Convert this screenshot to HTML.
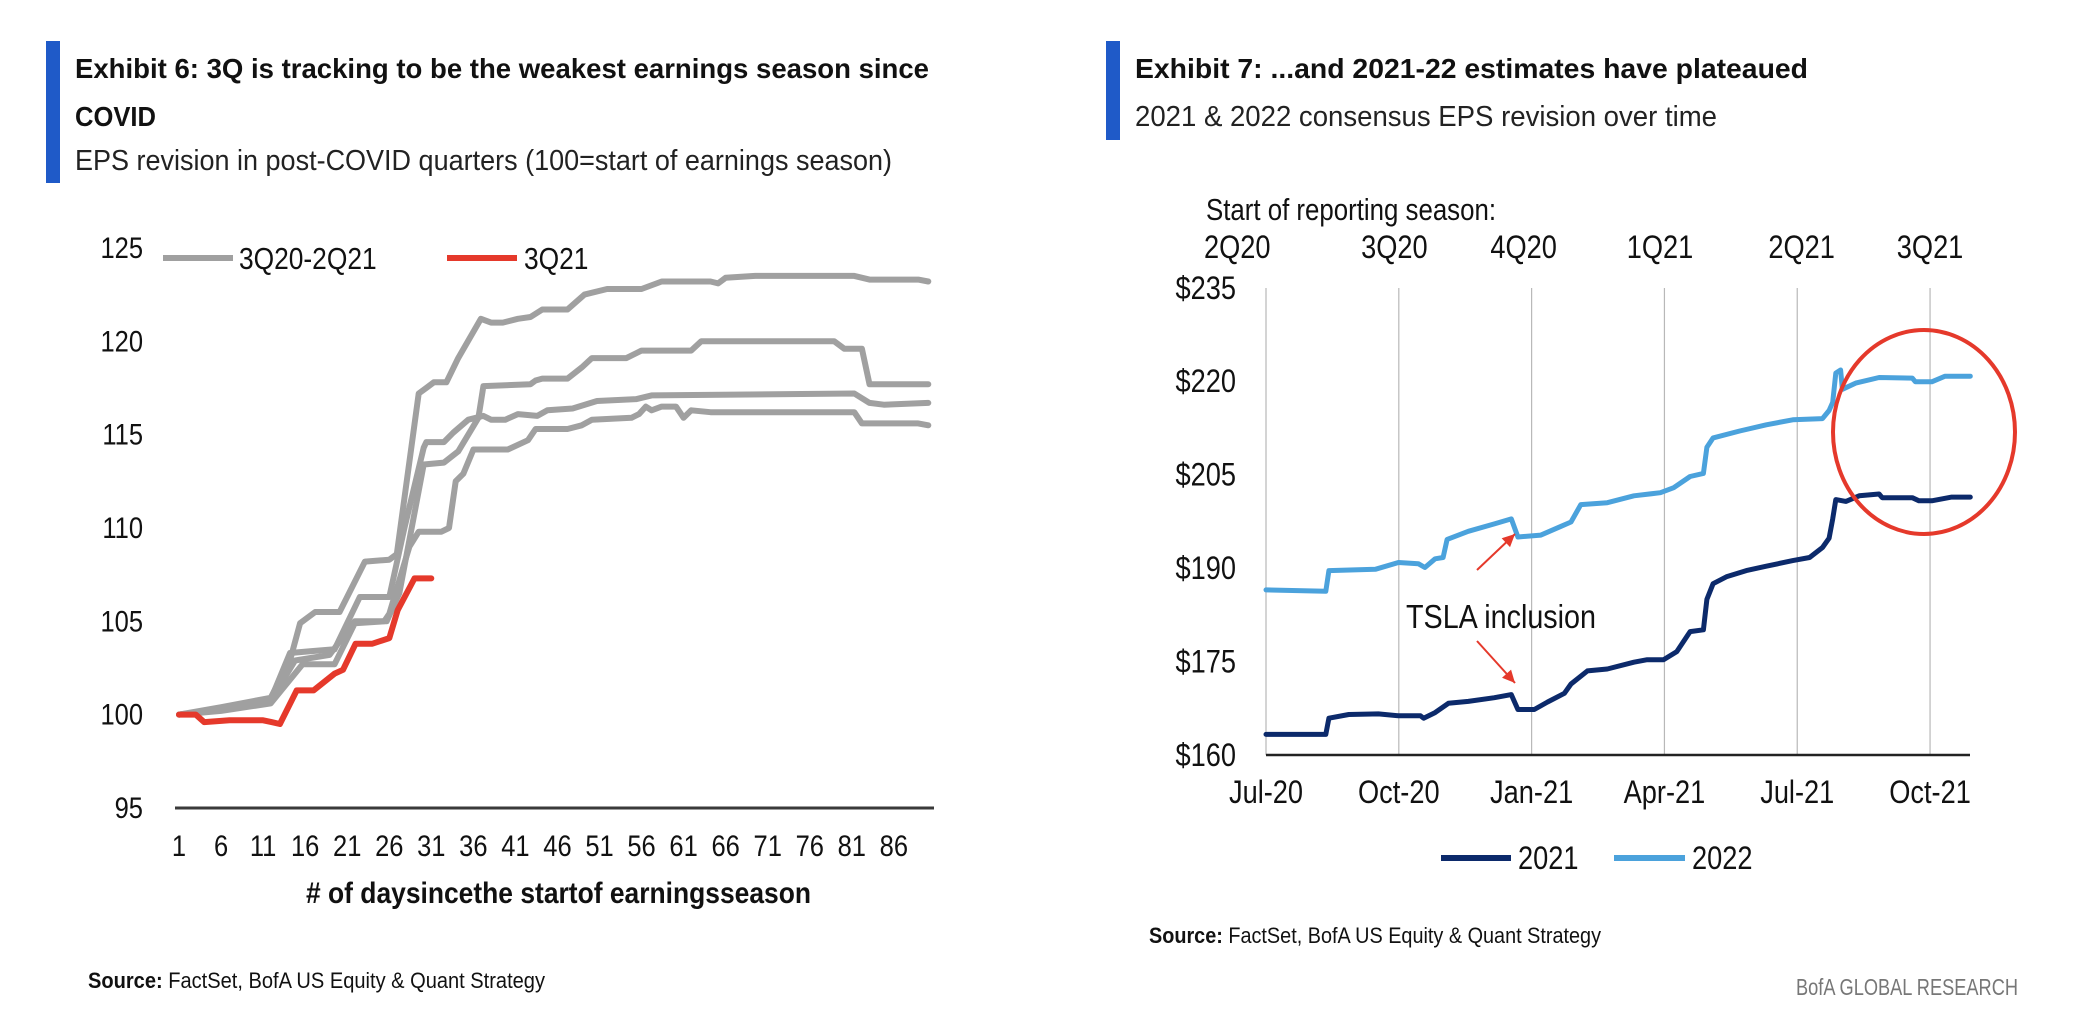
<!DOCTYPE html>
<html><head><meta charset="utf-8">
<style>
html,body{margin:0;padding:0;background:#fff;}
svg{display:block;}
text{font-family:"Liberation Sans Narrow","Liberation Sans",sans-serif;}
</style></head>
<body>
<svg id="root" width="2076" height="1016" viewBox="0 0 2076 1016" xmlns="http://www.w3.org/2000/svg">
  <rect x="46" y="41" width="14" height="142" fill="#1f5ac8"/>
  <text x="75" y="78" font-size="28" font-weight="bold" fill="#111" textLength="854" lengthAdjust="spacingAndGlyphs">Exhibit 6: 3Q is tracking to be the weakest earnings season since</text>
  <text x="75" y="126" font-size="28" font-weight="bold" fill="#111" textLength="81" lengthAdjust="spacingAndGlyphs">COVID</text>
  <text x="75" y="170" font-size="29" fill="#222" textLength="817" lengthAdjust="spacingAndGlyphs">EPS revision in post-COVID quarters (100=start of earnings season)</text>

  <rect x="1106" y="41" width="14" height="99" fill="#1f5ac8"/>
  <text x="1135" y="78" font-size="28" font-weight="bold" fill="#111" textLength="673" lengthAdjust="spacingAndGlyphs">Exhibit 7: ...and 2021-22 estimates have plateaued</text>
  <text x="1135" y="126" font-size="29" fill="#222" textLength="582" lengthAdjust="spacingAndGlyphs">2021 &amp; 2022 consensus EPS revision over time</text>

  <g id="left-chart"></g>
  <g id="right-chart"></g>

  <text x="88" y="988" font-size="22" fill="#111" textLength="457" lengthAdjust="spacingAndGlyphs"><tspan font-weight="bold">Source:</tspan> FactSet, BofA US Equity &amp; Quant Strategy</text>
  <text x="1149" y="943" font-size="22" fill="#111" textLength="452" lengthAdjust="spacingAndGlyphs"><tspan font-weight="bold">Source:</tspan> FactSet, BofA US Equity &amp; Quant Strategy</text>
  <text x="2018" y="995" font-size="23" fill="#777" text-anchor="end" textLength="222" lengthAdjust="spacingAndGlyphs">BofA GLOBAL RESEARCH</text>
</svg>
<script>
// ===== Exhibit 6 data =====
const leftYTicks = [95, 100, 105, 110, 115, 120, 125];
const leftXTicks = [1, 6, 11, 16, 21, 26, 31, 36, 41, 46, 51, 56, 61, 66, 71, 76, 81, 86];
const greyADays = [1,6,11.9,14.2,15.4,17.2,20.1,23.1,26,26.9,29.5,30.4,31.3,32.8,34.2,36.9,38.1,39.5,41.3,42.8,44.2,47.2,49.2,51.9,56,58.4,64.2,65.1,66,69.5,81.3,83.1,88.9,90.1];
const greyAVals = [100,100.4,100.9,102.9,104.9,105.5,105.5,108.2,108.3,108.6,117.2,117.5,117.8,117.8,119.1,121.2,121,121,121.2,121.3,121.7,121.7,122.5,122.8,122.8,123.2,123.2,123.1,123.4,123.5,123.5,123.3,123.3,123.2];
const greyBDays = [1,6,11.9,14.8,18.9,21.9,25.7,27.2,30.1,32.5,34.2,36.6,37.2,42.8,43.4,44.2,47.2,48.9,50.1,54.2,56,61.9,63.1,78.9,80.1,82.2,83.1,90.1];
const greyBVals = [100,100.3,100.75,102.9,103.2,105,105,106.5,113.4,113.5,114.1,115.9,117.6,117.7,117.9,118,118,118.6,119.1,119.1,119.5,119.5,120,120,119.6,119.6,117.7,117.7];
const greyCDays = [1,6,11.9,14.2,16.6,19.5,22.5,26,27.8,30.1,30.4,32.5,33.6,35.4,37.2,38.1,39.8,41.3,43.6,44.8,47.8,50.7,55.4,57.2,81.3,83.1,84.8,90.1];
const greyCVals = [100,100.3,100.8,103.3,103.4,103.5,106.3,106.3,110,114.3,114.6,114.6,115.1,115.8,116,115.8,115.8,116.1,116,116.3,116.4,116.8,116.9,117.1,117.2,116.7,116.6,116.7];
const greyDDays = [1,6,11.9,15.7,19.5,21.9,25.4,26,28.4,29.5,32.2,33.1,33.9,34.8,36,40.1,42.5,43.4,47.2,48.9,50.1,54.8,55.7,56.5,57.2,58.4,60.1,61,61.9,64.2,81.3,82.2,88.9,90.1];
const greyDVals = [100,100.2,100.6,102.7,102.7,104.9,105,105.4,109,109.8,109.8,110,112.5,112.9,114.2,114.2,114.7,115.3,115.3,115.5,115.8,115.9,116.1,116.5,116.3,116.5,116.5,115.9,116.3,116.2,116.2,115.6,115.6,115.5];
const redDays = [1,3,4,7,11,12,13,15,17,19.5,20.5,22,24,26,27,29,31];
const redVals = [100,100,99.6,99.7,99.7,99.6,99.5,101.3,101.3,102.2,102.4,103.8,103.8,104.1,105.6,107.3,107.3];

// ===== Exhibit 7 data (months since Jul-2020) =====
const rightYTicks = [160, 175, 190, 205, 220, 235];
const rightXLabels = ['Jul-20', 'Oct-20', 'Jan-21', 'Apr-21', 'Jul-21', 'Oct-21'];
const rightXLabelMonths = [0, 3, 6, 9, 12, 15];
const seasonLabels = ['2Q20', '3Q20', '4Q20', '1Q21', '2Q21', '3Q21'];
const seasonMonths = [-0.65, 2.9, 5.82, 8.9, 12.1, 15];
const eps2022Months = [0,1.35,1.42,2.47,2.99,3.44,3.59,3.82,4.0,4.09,4.57,5.16,5.54,5.69,6.21,6.66,6.89,7.11,7.71,8.31,8.91,9.21,9.58,9.88,9.96,10.10,10.70,11.30,11.90,12.57,12.72,12.80,12.87,12.98,13.02,13.32,13.85,14.60,14.67,15.04,15.34,15.91];
const eps2022Vals = [186.5,186.3,189.6,189.8,190.9,190.7,190.1,191.5,191.7,194.6,195.9,197.1,197.9,195.0,195.3,196.7,197.4,200.2,200.5,201.6,202.1,202.9,204.7,205.2,209.4,210.9,212.0,213.0,213.8,214.0,215.3,216.6,221.3,221.8,218.7,219.7,220.6,220.5,219.9,219.9,220.8,220.8];
const eps2021Months = [0,1.35,1.42,1.87,2.54,2.99,3.49,3.56,3.82,4.12,4.57,5.16,5.54,5.69,6.06,6.36,6.74,6.89,7.26,7.71,8.31,8.61,8.98,9.28,9.58,9.88,9.96,10.10,10.40,10.85,11.30,11.90,12.28,12.57,12.72,12.80,12.87,13.10,13.40,13.85,13.92,14.60,14.75,15.04,15.49,15.91];
const eps2021Vals = [163.3,163.3,165.9,166.5,166.6,166.3,166.3,165.9,166.8,168.3,168.6,169.2,169.7,167.3,167.3,168.5,169.9,171.4,173.5,173.8,174.9,175.3,175.3,176.6,179.8,180.1,185.0,187.5,188.6,189.6,190.3,191.2,191.7,193.3,194.8,197.9,201.0,200.7,201.6,201.9,201.3,201.3,200.8,200.8,201.4,201.4];

const NS = 'http://www.w3.org/2000/svg';
function mk(tag, attrs, parent, txt) {
  const e = document.createElementNS(NS, tag);
  for (const k in attrs) e.setAttribute(k, attrs[k]);
  if (txt !== undefined) e.textContent = txt;
  parent.appendChild(e);
  return e;
}
// narrow text: placed via transform, horizontally compressed
function ntext(parent, x, y, size, anchor, str, bold) {
  const a = {transform: 'translate(' + x + ',' + y + ') scale(0.85,1)', 'font-size': size, 'text-anchor': anchor, fill: '#111'};
  if (bold) a['font-weight'] = 'bold';
  return mk('text', a, parent, str);
}

// ----- Left chart -----
const L = document.getElementById('left-chart');
const lx = d => 179 + (d - 1) * 8.41;
const ly = v => 808 - (v - 95) * 18.67;
leftYTicks.forEach(v => {
  const t = ntext(L, 143, ly(v) + 10, 30, 'end', String(v));
  
  
});
leftXTicks.forEach(d => {
  const t = ntext(L, lx(d), 856, 30, 'middle', String(d));
  
  
});
const lAxis = mk('line', {x1: 175, y1: 808, x2: 934, y2: 808, stroke: '#3a3a3a', 'stroke-width': 3}, L);


const lTitle = mk('text', {x: 306, y: 903, 'font-size': 30, 'font-weight': 'bold', fill: '#111', textLength: 505, lengthAdjust: 'spacingAndGlyphs'}, L, '# of daysincethe startof earningsseason');



function poly(parent, xs, ys, fx, fy, color, w, name) {
  const pts = xs.map((x, i) => fx(x).toFixed(1) + ',' + fy(ys[i]).toFixed(1)).join(' ');
  const p = mk('polyline', {points: pts, fill: 'none', stroke: color, 'stroke-width': w, 'stroke-linejoin': 'round', 'stroke-linecap': 'round'}, parent);
  
  
  return p;
}
poly(L, greyDDays, greyDVals, lx, ly, '#a0a0a0', 6, 'line-quarter-d');
poly(L, greyCDays, greyCVals, lx, ly, '#a0a0a0', 6, 'line-quarter-c');
poly(L, greyBDays, greyBVals, lx, ly, '#a0a0a0', 6, 'line-quarter-b');
poly(L, greyADays, greyAVals, lx, ly, '#a0a0a0', 6, 'line-quarter-a');
poly(L, redDays, redVals, lx, ly, '#e5392b', 6, 'line-3q21');

const lg1 = mk('line', {x1: 163, y1: 258, x2: 233, y2: 258, stroke: '#a0a0a0', 'stroke-width': 6}, L);


const lt1 = ntext(L, 239, 269, 31, 'start', '3Q20-2Q21');


const lg2 = mk('line', {x1: 447, y1: 258, x2: 517, y2: 258, stroke: '#e5392b', 'stroke-width': 6}, L);


const lt2 = ntext(L, 524, 269, 31, 'start', '3Q21');



// ----- Right chart -----
const R = document.getElementById('right-chart');
const rx = m => 1266 + m * 44.27;
const ry = v => 755 - (v - 160) * 6.23;
rightXLabelMonths.forEach(m => {
  const g = mk('line', {x1: rx(m), y1: 288, x2: rx(m), y2: 755, stroke: '#b8b8b8', 'stroke-width': 1.2}, R);
  
  
});
const rAxis = mk('line', {x1: 1266, y1: 755, x2: 1970, y2: 755, stroke: '#222', 'stroke-width': 2.5}, R);


rightYTicks.forEach(v => {
  const t = ntext(R, 1236, ry(v) + 11, 32, 'end', '$' + v);
  
  
});
rightXLabels.forEach((s, i) => {
  const t = ntext(R, rx(rightXLabelMonths[i]), 803, 32, 'middle', s);
  
  
});
const sHead = mk('text', {x: 1206, y: 220, 'font-size': 31, fill: '#111', textLength: 290, lengthAdjust: 'spacingAndGlyphs'}, R, 'Start of reporting season:');


seasonLabels.forEach((s, i) => {
  const t = ntext(R, rx(seasonMonths[i]), 258, 32, 'middle', s);
  
  
});
poly(R, eps2022Months, eps2022Vals, rx, ry, '#4ba2dc', 5, 'line-eps-2022');
poly(R, eps2021Months, eps2021Vals, rx, ry, '#0c2a6b', 5, 'line-eps-2021');

const circ = mk('ellipse', {cx: 1924, cy: 432, rx: 91, ry: 102, fill: 'none', stroke: '#e5392b', 'stroke-width': 4}, R);


const tsla = mk('text', {x: 1406, y: 628, 'font-size': 33, fill: '#111', textLength: 190, lengthAdjust: 'spacingAndGlyphs'}, R, 'TSLA inclusion');


function arrow(x1, y1, x2, y2, name) {
  const g = mk('g', {}, R);
  
  
  mk('line', {x1: x1, y1: y1, x2: x2, y2: y2, stroke: '#e5392b', 'stroke-width': 2}, g);
  const a = Math.atan2(y2 - y1, x2 - x1), s = 14, w = 0.45;
  const p1 = (x2 - s * Math.cos(a - w)) + ',' + (y2 - s * Math.sin(a - w));
  const p2 = (x2 - s * Math.cos(a + w)) + ',' + (y2 - s * Math.sin(a + w));
  mk('polygon', {points: x2 + ',' + y2 + ' ' + p1 + ' ' + p2, fill: '#e5392b'}, g);
}
arrow(1477, 570, 1515, 534, 'tsla-arrow-2022');
arrow(1477, 641, 1515, 683, 'tsla-arrow-2021');

const rg1 = mk('line', {x1: 1441, y1: 858, x2: 1511, y2: 858, stroke: '#0c2a6b', 'stroke-width': 6}, R);


const rt1 = ntext(R, 1518, 869, 32, 'start', '2021');


const rg2 = mk('line', {x1: 1614, y1: 858, x2: 1685, y2: 858, stroke: '#4ba2dc', 'stroke-width': 6}, R);


const rt2 = ntext(R, 1692, 869, 32, 'start', '2022');


</script>
</body></html>
